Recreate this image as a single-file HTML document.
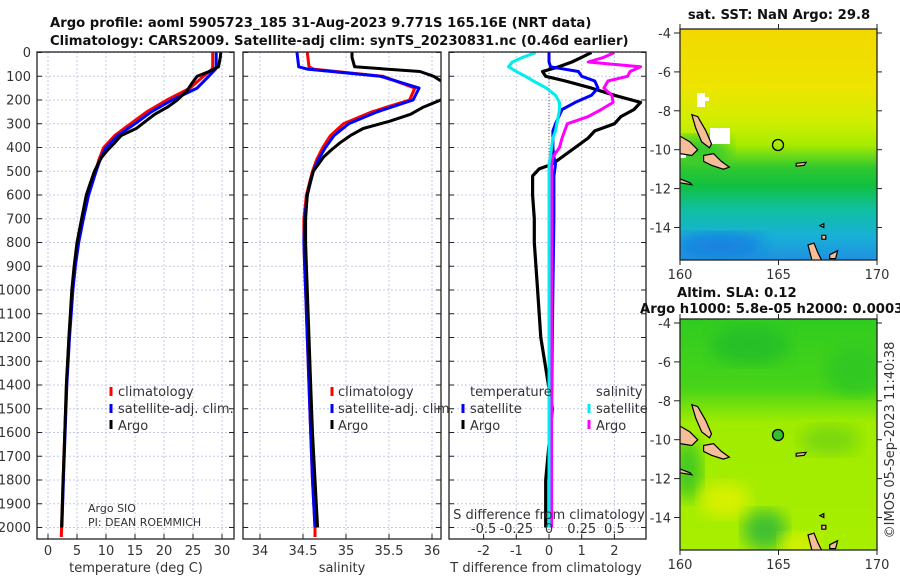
<!DOCTYPE html>
<html><head><meta charset="utf-8"><style>
body{margin:0;background:#fff;overflow:hidden;}
svg{display:block;font-family:"DejaVu Sans","Liberation Sans",sans-serif;}
.t{font-size:13px;fill:#333;}
.b{font-size:13.2px;font-weight:bold;fill:#111;}
.g{stroke:#c4c8e8;stroke-width:1;stroke-dasharray:2,2;}
.ax{fill:none;stroke:#222;stroke-width:1.3;}
</style></head><body>
<svg id="fig" width="900" height="580" viewBox="0 0 900 580">
<defs>
<clipPath id="c1"><rect x="37" y="52" width="197" height="487"/></clipPath>
<clipPath id="c2"><rect x="243" y="52" width="198" height="487"/></clipPath>
<clipPath id="c3"><rect x="449" y="52" width="197" height="487"/></clipPath>
<clipPath id="m1"><rect x="680" y="29" width="197" height="231"/></clipPath>
<clipPath id="m2"><rect x="680" y="319" width="197" height="231"/></clipPath>
<linearGradient id="sst" x1="0" y1="0" x2="0" y2="1">
<stop offset="0" stop-color="#f2d800"/><stop offset="0.25" stop-color="#eee400"/>
<stop offset="0.4" stop-color="#d0ee00"/><stop offset="0.5" stop-color="#a8ec00"/>
<stop offset="0.6" stop-color="#30c830"/><stop offset="0.68" stop-color="#10c040"/>
<stop offset="0.78" stop-color="#10c0a0"/><stop offset="0.9" stop-color="#18b0d8"/>
<stop offset="1" stop-color="#2090e0"/></linearGradient>
<linearGradient id="sla" x1="0" y1="0" x2="0" y2="1">
<stop offset="0" stop-color="#30cc20"/><stop offset="0.3" stop-color="#48d418"/>
<stop offset="0.45" stop-color="#a0ec00"/><stop offset="1" stop-color="#a8ee00"/></linearGradient>
<filter id="bl"><feGaussianBlur stdDeviation="8"/></filter>
</defs>

<text class="b" x="50" y="27">Argo profile: aoml 5905723_185 31-Aug-2023 9.771S 165.16E (NRT data)</text>
<text class="b" x="50" y="45">Climatology: CARS2009. Satellite-adj clim: synTS_20230831.nc (0.46d earlier)</text>

<g id="grids"></g>
<g id="series"></g>
<g id="axes"></g>

<g>
<line x1="111" y1="387" x2="111" y2="396" stroke="#f00" stroke-width="3"/>
<text class="t" x="118" y="396">climatology</text>
<line x1="111" y1="404" x2="111" y2="413" stroke="#00f" stroke-width="3"/>
<text class="t" x="118" y="413">satellite-adj. clim.</text>
<line x1="111" y1="420" x2="111" y2="429" stroke="#000" stroke-width="3"/>
<text class="t" x="118" y="430">Argo</text>
</g>
<g>
<line x1="332" y1="387" x2="332" y2="396" stroke="#f00" stroke-width="3"/>
<text class="t" x="338" y="396">climatology</text>
<line x1="332" y1="404" x2="332" y2="413" stroke="#00f" stroke-width="3"/>
<text class="t" x="338" y="413">satellite-adj. clim.</text>
<line x1="332" y1="420" x2="332" y2="429" stroke="#000" stroke-width="3"/>
<text class="t" x="338" y="430">Argo</text>
</g>
<g>
<text class="t" x="470" y="396">temperature</text>
<line x1="463" y1="404" x2="463" y2="413" stroke="#00f" stroke-width="3"/>
<text class="t" x="470" y="413">satellite</text>
<line x1="463" y1="420" x2="463" y2="429" stroke="#000" stroke-width="3"/>
<text class="t" x="470" y="430">Argo</text>
<text class="t" x="596" y="396">salinity</text>
<line x1="589" y1="404" x2="589" y2="413" stroke="#0ee" stroke-width="3"/>
<text class="t" x="596" y="413">satellite</text>
<line x1="589" y1="420" x2="589" y2="429" stroke="#f0f" stroke-width="3"/>
<text class="t" x="596" y="430">Argo</text>
</g>
<text class="t" x="88" y="512" style="font-size:11px">Argo SIO</text>
<text class="t" x="88" y="526" style="font-size:11px">PI: DEAN ROEMMICH</text>

<text class="t" x="136" y="572" text-anchor="middle">temperature (deg C)</text>
<text class="t" x="342" y="572" text-anchor="middle">salinity</text>
<text class="t" x="546" y="572" text-anchor="middle">T difference from climatology</text>
<text class="t" x="549" y="519" text-anchor="middle">S difference from climatology</text>

<g>
<text class="b" x="779" y="19" text-anchor="middle">sat. SST: NaN Argo: 29.8</text>
<g clip-path="url(#m1)">
<rect x="680" y="29" width="197" height="231" fill="url(#sst)"/>
<ellipse cx="700" cy="150" rx="30" ry="14" fill="#30c830" filter="url(#bl)"/>
<ellipse cx="720" cy="245" rx="45" ry="12" fill="#1880e0" filter="url(#bl)"/>
<rect x="697" y="93" width="8" height="14" fill="#fff"/><rect x="703" y="97" width="6" height="4" fill="#fff"/>
<rect x="710" y="128" width="20" height="16" fill="#fff"/><rect x="680" y="145" width="6" height="13" fill="#fff"/>
</g>
<g id="isl1" clip-path="url(#m1)"></g>
<circle cx="778" cy="145" r="5.5" fill="none" stroke="#000" stroke-width="1.3"/>
<rect x="680" y="29" width="197" height="231" class="ax"/>
</g>
<g>
<text class="b" x="677" y="297">Altim. SLA: 0.12</text>
<text class="b" x="640" y="313">Argo h1000: 5.8e-05 h2000: 0.0003</text>
<g clip-path="url(#m2)">
<rect x="680" y="319" width="197" height="231" fill="url(#sla)"/>
<ellipse cx="750" cy="345" rx="40" ry="20" fill="#28c028" filter="url(#bl)"/>
<ellipse cx="855" cy="370" rx="30" ry="25" fill="#30c820" filter="url(#bl)"/>
<ellipse cx="688" cy="470" rx="14" ry="30" fill="#40c820" filter="url(#bl)"/>
<ellipse cx="725" cy="500" rx="25" ry="18" fill="#d8f000" filter="url(#bl)"/>
<ellipse cx="765" cy="530" rx="22" ry="20" fill="#40c030" filter="url(#bl)"/>
<ellipse cx="800" cy="545" rx="20" ry="12" fill="#d8f000" filter="url(#bl)"/>
<ellipse cx="830" cy="440" rx="30" ry="15" fill="#7ad810" filter="url(#bl)"/>
</g>
<g id="isl2" clip-path="url(#m2)"></g>
<circle cx="778" cy="435" r="5.5" fill="#30c030" stroke="#000" stroke-width="1.3"/>
<rect x="680" y="319" width="197" height="231" class="ax"/>
</g>
<text class="t" transform="translate(894,440) rotate(-90)" text-anchor="middle">©IMOS 05-Sep-2023 11:40:38</text>

<script>
const depthTicks=[0,100,200,300,400,500,600,700,800,900,1000,1100,1200,1300,1400,1500,1600,1700,1800,1900,2000];
const tempTicks=[0,5,10,15,20,25,30];
const salTicks=[34,34.5,35,35.5,36];
const salTickLabels=["34","34.5","35","35.5","36"];
const tdiffTicks=[-2,-1,0,1,2];
const sdiffTicks=[-0.5,-0.25,0,0.25,0.5];
const sdiffTickLabels=["-0.5","-0.25","0","0.25","0.5"];

const climDepth=[0,60,70,100,150,200,250,300,350,400,450,500,600,700,800,900,1000,1200,1400,1600,1800,2000,2040];
const climTemp=[28.4,28.4,28.3,26.8,24.5,20.5,17.0,14.2,11.5,9.6,8.8,8.2,6.9,6.0,5.2,4.6,4.2,3.6,3.2,2.9,2.6,2.35,2.3];
const satTemp=[29.0,29.0,28.9,27.7,25.7,21.4,17.8,15.0,12.0,10.0,9.0,8.3,7.0,6.1,5.3,4.7,4.3,3.7,3.25,2.95,2.65,2.4,null];
const argoDepth=[0,20,60,80,100,130,160,200,230,260,290,320,350,380,410,440,470,500,550,600,700,800,900,1000,1200,1400,1600,1800,2000];
const argoTemp=[29.8,29.7,29.4,27.8,25.7,24.8,24.0,22.3,20.6,18.4,16.8,15.2,12.6,11.5,10.3,9.3,8.6,8.0,7.3,6.6,5.8,5.0,4.5,4.1,3.6,3.15,2.9,2.6,2.35];

const climSal=[34.55,34.57,34.62,35.43,35.8,35.74,35.3,34.97,34.82,34.73,34.66,34.61,34.54,34.51,34.51,34.52,34.53,34.55,34.57,34.59,34.61,34.64,34.64];
const satSal=[34.43,34.45,34.55,35.4,35.85,35.78,35.36,35.03,34.86,34.76,34.68,34.62,34.55,34.52,34.51,34.52,34.53,34.55,34.57,34.59,34.61,34.64,null];
const argoSal=[35.07,35.07,35.1,35.86,36.02,36.15,36.3,36.1,35.9,35.75,35.5,35.2,35.05,34.93,34.83,34.74,34.68,34.62,34.58,34.55,34.53,34.53,34.54,34.55,34.57,34.59,34.61,34.64,34.67];

const diffDepth=[0,20,40,60,80,100,120,150,180,210,240,270,300,330,360,400,440,470,490,520,600,700,800,1000,1200,1500,1800,2000];
const argoTdiff=[1.3,1.0,0.7,0.3,-0.2,-0.1,0.5,1.3,2.0,2.8,2.6,2.2,2.0,1.4,1.2,0.8,0.4,0.1,-0.3,-0.5,-0.5,-0.45,-0.45,-0.35,-0.25,0.1,-0.1,-0.1];
const satTdiff=[0.0,0.0,0.0,0.05,0.9,1.0,1.4,1.5,1.3,0.8,0.4,0.3,0.2,0.12,0.12,0.12,0.15,0.2,0.18,0.15,0.15,0.15,0.14,0.12,0.1,0.08,0.06,0.05];
const argoSdiff=[0.5,0.42,0.3,0.7,0.62,0.6,0.45,0.42,0.48,0.49,0.4,0.3,0.14,0.12,0.1,0.08,0.03,0.02,0.02,0.02,0.02,0.02,0.02,0.02,0.02,0.02,0.02,0.02];
const satSdiff=[-0.1,-0.2,-0.28,-0.31,-0.25,-0.18,-0.12,-0.02,0.05,0.08,0.08,0.07,0.06,0.05,0.03,0.02,0.01,0.0,0.0,0.0,0.0,0.0,0.0,0.0,0.0,0.0,0.0,0.0];

const lonTicks=[160,165,170];
const latTicks=[-4,-6,-8,-10,-12,-14];

const yD=d=>52.5+0.2375*d;
const xT=t=>48+5.8*t;
const xS=s=>260+86*(s-34);
const xTd=t=>549+32.7*t;
const xSd=s=>549+130.8*s;
const NS="http://www.w3.org/2000/svg";
function mk(tag,attrs,parent){const e=document.createElementNS(NS,tag);for(const k in attrs)e.setAttribute(k,attrs[k]);parent.appendChild(e);return e;}
const grids=document.getElementById('grids'),series=document.getElementById('series'),axes=document.getElementById('axes');

const panels=[{x0:37,x1:234,xt:tempTicks,lab:tempTicks.map(String),fx:xT,name:'temperature'},
 {x0:243,x1:441,xt:salTicks,lab:salTickLabels,fx:xS,name:'salinity'},
 {x0:449,x1:646,xt:tdiffTicks,lab:tdiffTicks.map(String),fx:xTd,name:'difference'}];
panels.forEach((p,pi)=>{
  depthTicks.forEach(d=>{const l=mk('line',{x1:p.x0,x2:p.x1,y1:yD(d),y2:yD(d),class:'g'},grids);
    
    
    mk('line',{x1:p.x0,x2:p.x0+5,y1:yD(d),y2:yD(d),stroke:'#222'},axes);
    mk('line',{x1:p.x1-5,x2:p.x1,y1:yD(d),y2:yD(d),stroke:'#222'},axes);});
  p.xt.forEach((v,i)=>{const x=p.fx(v);
    const l=mk('line',{x1:x,x2:x,y1:52,y2:539,class:'g'},grids);
    
    
    mk('line',{x1:x,x2:x,y1:534,y2:539,stroke:'#222'},axes);
    const t=mk('text',{x:x,y:555,class:'t','text-anchor':'middle'},axes);t.textContent=p.lab[i];
    
    });
  const r=mk('rect',{x:p.x0,y:52,width:p.x1-p.x0,height:487,class:'ax'},axes);
  
  
});
depthTicks.forEach(d=>{const t=mk('text',{x:31,y:yD(d)+4.5,class:'t','text-anchor':'end'},axes);t.textContent=d;
  
  });
sdiffTicks.forEach((v,i)=>{const t=mk('text',{x:xSd(v),y:533,class:'t','text-anchor':'middle'},axes);t.textContent=sdiffTickLabels[i];
  
  });
const zl=mk('line',{x1:549,x2:549,y1:52,y2:539,stroke:'#555','stroke-dasharray':'1,2'},grids);



function prof(depths,vals,fx,color,clip,name,w){
  let d='';depths.forEach((z,i)=>{if(vals[i]==null)return;d+=(d?'L':'M')+fx(vals[i]).toFixed(1)+','+yD(z).toFixed(1);});
  const p=mk('path',{d:d,fill:'none',stroke:color,'stroke-width':w||3,'stroke-linejoin':'round','clip-path':'url(#'+clip+')'},series);
  
  
}
prof(climDepth,climTemp,xT,'#f00','c1','temperature-climatology-line');
prof(climDepth,satTemp,xT,'#00f','c1','temperature-satellite-line');
prof(argoDepth,argoTemp,xT,'#000','c1','temperature-argo-line');
prof(climDepth,climSal,xS,'#f00','c2','salinity-climatology-line');
prof(climDepth,satSal,xS,'#00f','c2','salinity-satellite-line');
prof(argoDepth,argoSal,xS,'#000','c2','salinity-argo-line');
prof(diffDepth,argoTdiff,xTd,'#000','c3','t-diff-argo-line',3.2);
prof(diffDepth,satTdiff,xTd,'#00f','c3','t-diff-satellite-line');
prof(diffDepth,argoSdiff,xSd,'#f0f','c3','s-diff-argo-line');
prof(diffDepth,satSdiff,xSd,'#0ee','c3','s-diff-satellite-line');

const mX=lon=>680+19.7*(lon-160);
const islands=[
 [[160.6,-8.2],[160.9,-8.3],[161.3,-9.0],[161.6,-9.7],[161.5,-9.9],[161.1,-9.6],[160.8,-8.9]],
 [[161.2,-10.3],[161.7,-10.2],[162.1,-10.6],[162.5,-10.9],[162.2,-11.0],[161.6,-10.8],[161.2,-10.6]],
 [[160.0,-9.3],[160.5,-9.6],[160.9,-10.0],[160.6,-10.3],[160.0,-10.2]],
 [[166.5,-14.9],[166.8,-14.8],[167.0,-15.3],[167.2,-15.7],[166.7,-15.7],[166.6,-15.3]],
 [[167.6,-15.4],[168.0,-15.2],[167.9,-15.6],[167.6,-15.6]],
 [[160.0,-11.5],[160.5,-11.7],[160.6,-11.8],[160.0,-11.7]],
 [[165.9,-10.7],[166.4,-10.65],[166.3,-10.8],[165.9,-10.85]],
 [[167.2,-14.4],[167.4,-14.4],[167.4,-14.6],[167.2,-14.6]],
 [[167.1,-13.9],[167.3,-13.8],[167.3,-14.0]]
];
[['isl1',29,-4],['isl2',319,-4]].forEach(([id,top,lat0])=>{
  const g=document.getElementById(id);const yL=lat=>top+4+19.45*(lat0-lat);
  islands.forEach(pts=>{const p=mk('polygon',{points:pts.map(q=>mX(q[0]).toFixed(1)+','+yL(q[1]).toFixed(1)).join(' '),fill:'#f5be98',stroke:'#000','stroke-width':1.2},g);
    
    });
  const ax=document.getElementById('fig');
  latTicks.forEach(l=>{const y=yL(l);
    mk('line',{x1:674,x2:680,y1:y,y2:y,stroke:'#222'},ax);mk('line',{x1:877,x2:882,y1:y,y2:y,stroke:'#222'},ax);
    const t=mk('text',{x:671,y:y+5,class:'t','text-anchor':'end'},ax);t.textContent=l;
    
    });
  lonTicks.forEach(l=>{const x=mX(l);
    mk('line',{x1:x,x2:x,y1:top+231,y2:top+236,stroke:'#222'},ax);mk('line',{x1:x,x2:x,y1:top-5,y2:top,stroke:'#222'},ax);
    const t=mk('text',{x:x,y:top+250,class:'t','text-anchor':'middle'},ax);t.textContent=l;
    
    });
});
</script>
</svg>
</body></html>
